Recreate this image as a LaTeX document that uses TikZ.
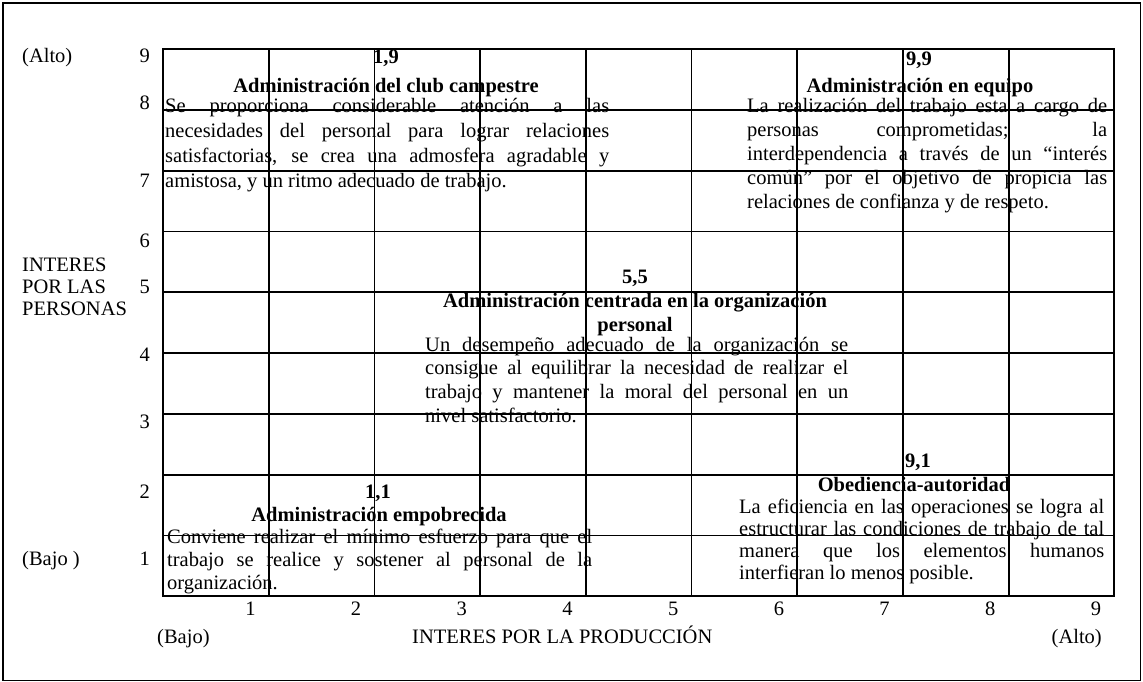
\documentclass[tikz,border=0pt]{standalone}
\usepackage{fontspec}
\setmainfont{Liberation Serif}
\usetikzlibrary{positioning}
\newcommand{\chartfont}{\fontsize{20.5}{24}\selectfont}
\newcommand{\descfont}[1]{\fontsize{20.5}{#1}\selectfont
  \tolerance=10000 \hbadness=10000 \hyphenpenalty=10000}

\begin{document}
\begin{tikzpicture}[x=1pt, y={(0pt,-1pt)},
    every node/.style={inner sep=0pt, font=\chartfont},
    gridline/.style={line width=1.8pt, line cap=rect},
    axisnum/.style={anchor=base east},
    cellnum/.style={anchor=base, font=\chartfont\bfseries},
    celltitle/.style={anchor=base, align=center, font=\chartfont\bfseries},
    desc/.style={anchor=base west, text width=#1, align=justify,
                 font=\descfont{24}}
]
    \useasboundingbox (0,0) rectangle (1143,682);

    % Outer frame
    \draw[line width=1.2pt] (3,3) rectangle (1140.5,680.5);

    % Grid 9 x 9
    \foreach \i in {0,...,9}
        \draw[gridline] ({163+\i*105.7},49) -- ({163+\i*105.7},596.2);
    \foreach \j in {0,...,9}
        \draw[gridline] (163,{49+\j*60.8}) -- (1114.3,{49+\j*60.8});

    % Vertical axis
    \node[anchor=base west] (alto) at (22,63) {(Alto)};
    \node[anchor=base west, align=left, font=\fontsize{20.5}{22}\selectfont]
         (yaxis) at (22,315) {INTERES\\POR LAS\\PERSONAS};
    \node[anchor=base west] (bajo) at (22,565) {(Bajo )};
    \foreach \n/\y in {9/63, 8/110, 7/187, 6/247, 5/293, 4/361, 3/428, 2/498, 1/565}
        \node[axisnum] (ylab\n) at (150,\y) {\n};

    % Horizontal axis
    \foreach \n in {1,...,9}
        \node[axisnum] (xlab\n) at ({163+\n*105.7-13},615) {\n};
    \node[anchor=base west] (bajox) at (157,643) {(Bajo)};
    \node[anchor=base west] (xaxis) at (412,643) {INTERES POR LA PRODUCCIÓN};
    \node[anchor=base east] (altox) at (1102,643) {(Alto)};

    % 1,9
    \node[cellnum] (num19) at (386,64) {1,9};
    \node[celltitle] (title19) at (386,93) {Administración del club campestre};
    \node[desc=444pt, font=\descfont{24.7}] (desc19) at (165,113)
         {Se proporciona considerable atención a las\linebreak
          necesidades del personal para lograr relaciones\linebreak
          satisfactorias, se crea una admosfera agradable y\linebreak
          amistosa, y un ritmo adecuado de trabajo.};

    % 9,9
    \node[cellnum] (num99) at (919,66) {9,9};
    \node[celltitle] (title99) at (920,93) {Administración en equipo};
    \node[desc=360pt, font=\descfont{23.8}] (desc99) at (747,113)
         {La realización del trabajo esta a cargo de\linebreak
          personas comprometidas; la\linebreak
          interdependencia a través de un “interés\linebreak
          común” por el objetivo de propicia las\linebreak
          relaciones de confianza y de respeto.};

    % 5,5
    \node[cellnum] (num55) at (635,283) {5,5};
    \node[celltitle] (title55) at (635,331)
         {Administración centrada en la organización\\personal};
    \node[desc=423pt, font=\descfont{23.7}] (desc55) at (425,351)
         {Un desempeño adecuado de la organización se\linebreak
          consigue al equilibrar la necesidad de realizar el\linebreak
          trabajo y mantener la moral del personal en un\linebreak
          nivel satisfactorio.};

    % 1,1
    \node[cellnum] (num11) at (378,498) {1,1};
    \node[celltitle] (title11) at (379,521) {Administración empobrecida};
    \node[desc=425pt, font=\descfont{23}] (desc11) at (167,543)
         {Conviene realizar el mínimo esfuerzo para que el\linebreak
          trabajo se realice y sostener al personal de la\linebreak
          organización.};

    % 9,1
    \node[cellnum] (num91) at (918,467) {9,1};
    \node[celltitle] (title91) at (914,491) {Obediencia-autoridad};
    \node[desc=365pt, font=\descfont{22.3}] (desc91) at (739,513)
         {La eficiencia en las operaciones se logra al\linebreak
          estructurar las condiciones de trabajo de tal\linebreak
          manera que los elementos humanos\linebreak
          interfieran lo menos posible.};
\end{tikzpicture}
\end{document}
